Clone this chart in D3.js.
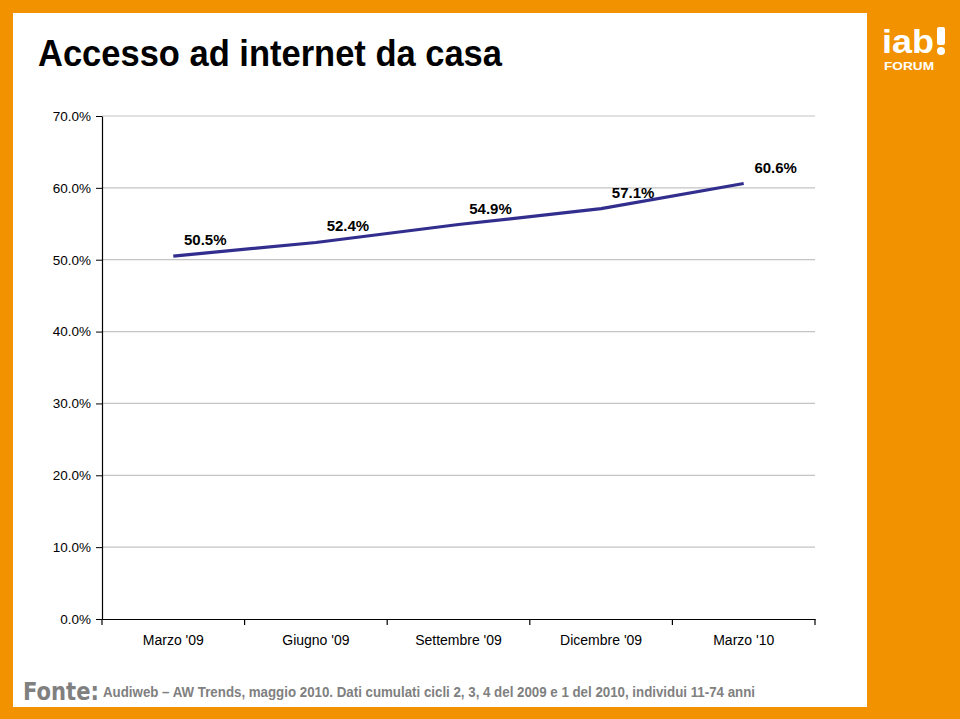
<!DOCTYPE html>
<html><head><meta charset="utf-8">
<script src="https://cdn.jsdelivr.net/npm/d3@7"></script>
<style>body{margin:0;padding:0;background:#F29200;}svg{display:block;}</style>
</head><body>
<script>
const categories = ["Marzo '09", "Giugno '09", "Settembre '09", "Dicembre '09", "Marzo '10"];
const values = [50.5, 52.4, 54.9, 57.1, 60.6];
const valueLabels = ["50.5%", "52.4%", "54.9%", "57.1%", "60.6%"];
const yTicks = [0, 10, 20, 30, 40, 50, 60, 70];
const title = "Accesso ad internet da casa";
const sourceLabel = "Fonte:";
const sourceText = "Audiweb \u2013 AW Trends, maggio 2010. Dati cumulati cicli 2, 3, 4 del 2009 e 1 del 2010, individui 11-74 anni";

const W = 960, H = 719;
const svg = d3.select("body").append("svg").attr("width", W).attr("height", H);
svg.append("rect").attr("width", W).attr("height", H).attr("fill", "#F29200");
svg.append("rect").attr("x", 13).attr("y", 13).attr("width", 854).attr("height", 694).attr("fill", "#fff");

// title
svg.append("text").attr("x", 38).attr("y", 66)
  .attr("font-family", "'Liberation Sans Narrow','Arial Narrow','Liberation Sans',Arial,sans-serif")
  .attr("font-weight", "bold").attr("font-size", 36).attr("fill", "#000")
  .attr("textLength", 464).attr("lengthAdjust", "spacingAndGlyphs")
  .text(title);

// logo
const logo = svg.append("g").attr("fill", "#fff").attr("font-family", "'Liberation Sans',Arial,sans-serif");
logo.append("text").attr("x", 882).attr("y", 53).attr("font-size", 33).attr("font-weight", "bold")
  .attr("textLength", 52).attr("lengthAdjust", "spacingAndGlyphs").text("iab");
logo.append("circle").attr("cx", 941).attr("cy", 51).attr("r", 4);
logo.append("rect").attr("x", 937).attr("y", 27).attr("width", 8).attr("height", 18).attr("rx", 2);
logo.append("text").attr("x", 884).attr("y", 70).attr("font-size", 11).attr("font-weight", "bold")
  .attr("textLength", 50).attr("lengthAdjust", "spacingAndGlyphs").text("FORUM");

const x = d3.scaleBand().domain(categories).range([102, 815]);
const y = d3.scaleLinear().domain([0, 70]).range([619, 116]);

const font = "'Liberation Sans',Arial,sans-serif";

// gridlines
svg.append("g").selectAll("line").data(yTicks.filter(d => d > 0)).join("line")
  .attr("x1", 102).attr("x2", 815).attr("y1", d => y(d)).attr("y2", d => y(d))
  .attr("stroke", "#c4c4c4").attr("stroke-width", 1.2);

// y axis
const yAxis = svg.append("g").attr("transform", "translate(102,0)")
  .call(d3.axisLeft(y).tickValues(yTicks).tickSize(6).tickSizeOuter(0).tickFormat(d => d.toFixed(1) + "%"));
yAxis.select(".domain").attr("stroke", "#000").attr("stroke-width", 1.2);
yAxis.selectAll(".tick line").attr("stroke", "#000");
yAxis.selectAll(".tick text").attr("font-family", font).attr("font-size", 13.5).attr("fill", "#000").attr("x", -11);

// x axis
const xAxis = svg.append("g").attr("transform", "translate(0,619)")
  .call(d3.axisBottom(x).tickSize(0).tickSizeOuter(0));
xAxis.select(".domain").attr("stroke", "#000").attr("stroke-width", 1.2);
xAxis.selectAll(".tick text").attr("font-family", font).attr("font-size", 14).attr("fill", "#000").attr("dy", 0).attr("y", 26);
// boundary ticks
const bounds = categories.map(c => x(c)).concat([x.range()[1]]);
svg.append("g").selectAll("line").data(bounds).join("line")
  .attr("x1", d => d).attr("x2", d => d).attr("y1", 619).attr("y2", 625)
  .attr("stroke", "#000").attr("stroke-width", 1.2);

// line
const pts = categories.map((c, i) => [x(c) + x.bandwidth() / 2, y(values[i])]);
svg.append("path").attr("d", d3.line()(pts)).attr("fill", "none")
  .attr("stroke", "#312E8E").attr("stroke-width", 3.2);

// labels
svg.append("g").selectAll("text").data(pts).join("text")
  .attr("x", d => d[0] + 32).attr("y", d => d[1] - 11)
  .attr("text-anchor", "middle").attr("font-family", font).attr("font-weight", "bold")
  .attr("font-size", 15).attr("fill", "#000")
  .text((d, i) => valueLabels[i]);

// footer
svg.append("text").attr("x", 23).attr("y", 700).attr("font-family", "'DejaVu Sans',Verdana,sans-serif")
  .attr("font-weight", "bold").attr("font-size", 25).attr("fill", "#808080")
  .attr("textLength", 76).attr("lengthAdjust", "spacingAndGlyphs").text(sourceLabel);
svg.append("text").attr("x", 103).attr("y", 697).attr("font-family", font)
  .attr("font-weight", "bold").attr("font-size", 14).attr("fill", "#808080")
  .attr("textLength", 652).attr("lengthAdjust", "spacingAndGlyphs").text(sourceText);
</script>
</body></html>
